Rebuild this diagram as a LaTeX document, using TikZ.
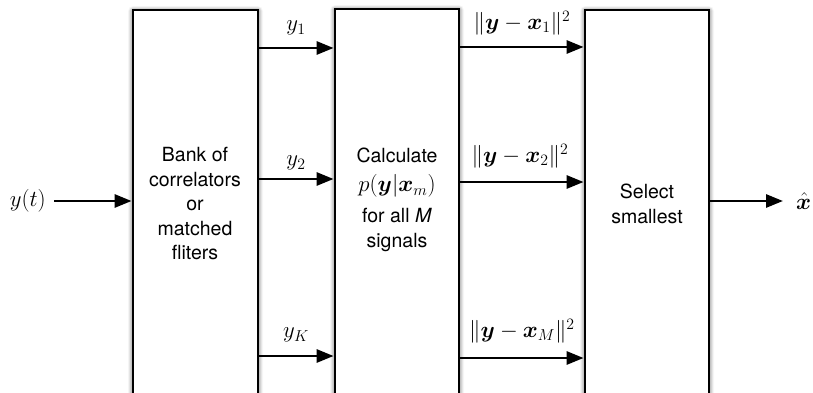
\documentclass[tikz,border=0pt]{standalone}
\usepackage{amsmath,bm}
\usepackage{fontspec}
\setsansfont{TeX Gyre Heros}
\usetikzlibrary{arrows.meta,shadows.blur}
\begin{document}
\begin{tikzpicture}[x=1pt,y=-1pt,
  box/.style={draw, line width=2.8pt, fill=white, minimum height=420pt, inner sep=0pt,
    blur shadow={shadow xshift=0pt, shadow yshift=-1pt, shadow blur radius=5pt, shadow blur steps=6, shadow opacity=75}},
  lbl/.style={font=\sffamily\fontsize{19.5}{24.5}\selectfont, align=center, inner sep=0pt},
  mlbl/.style={font=\fontsize{20.74}{24}\selectfont, inner sep=0pt, scale=1.1, transform shape},
  arr/.style={line width=2.8pt, -{Triangle[length=17pt,width=13pt]}}]
\path[use as bounding box] (0,0) rectangle (813,393);
\clip (0,0) rectangle (813,393);
% boxes
\node[box, minimum width=125pt] (b1) at (195.5,220) {};
\node[box, minimum width=124pt] (b2) at (397,219) {};
\node[box, minimum width=124pt] (b3) at (647,220) {};
% box texts
\node[lbl] (t1) at (195,204) {Bank of\\correlators\\or\\matched\\fliters};
\node[lbl] (t2a) at (397,155) {Calculate};
\node[mlbl] (t2b) at (397,186) {$p(\bm{y}|\bm{x}_m)$};
\node[lbl] (t2c) at (397,230) {for all \textit{M}\\signals};
\node[lbl] (t3) at (647,204) {Select\\smallest};
% row coordinates
\coordinate (r1) at (0,48);
\coordinate (r2) at (0,179);
\coordinate (r3) at (0,356);
\coordinate (s1) at (0,47);
\coordinate (s2) at (0,182);
\coordinate (s3) at (0,358);
\coordinate (rin) at (0,201);
% input / output
\node[mlbl, anchor=east] (yt) at (46,201) {$y(t)$};
\draw[arr] ([xshift=8pt]yt.east) -- (b1.west |- rin);
\node[mlbl, anchor=west] (xh) at (796,201) {$\hat{\bm{x}}$};
\draw[arr] (b3.east |- rin) -- ([xshift=-13pt]xh.west);
% first column arrows
\draw[arr] (b1.east |- r1) -- (b2.west |- r1);
\draw[arr] (b1.east |- r2) -- (b2.west |- r2);
\draw[arr] (b1.east |- r3) -- (b2.west |- r3);
\node[mlbl] (ly1) at (296,28) {$y_1$};
\node[mlbl] (ly2) at (296,163) {$y_2$};
\node[mlbl] (lyk) at (296,335) {$y_K$};
% second column arrows
\draw[arr] (b2.east |- s1) -- (b3.west |- s1);
\draw[arr] (b2.east |- s2) -- (b3.west |- s2);
\draw[arr] (b2.east |- s3) -- (b3.west |- s3);
\node[mlbl] (lx1) at (522,23) {$\|\bm{y}-\bm{x}_1\|^2$};
\node[mlbl] (lx2) at (520,156) {$\|\bm{y}-\bm{x}_2\|^2$};
\node[mlbl] (lxm) at (522,331) {$\|\bm{y}-\bm{x}_M\|^2$};
\end{tikzpicture}
\end{document}
